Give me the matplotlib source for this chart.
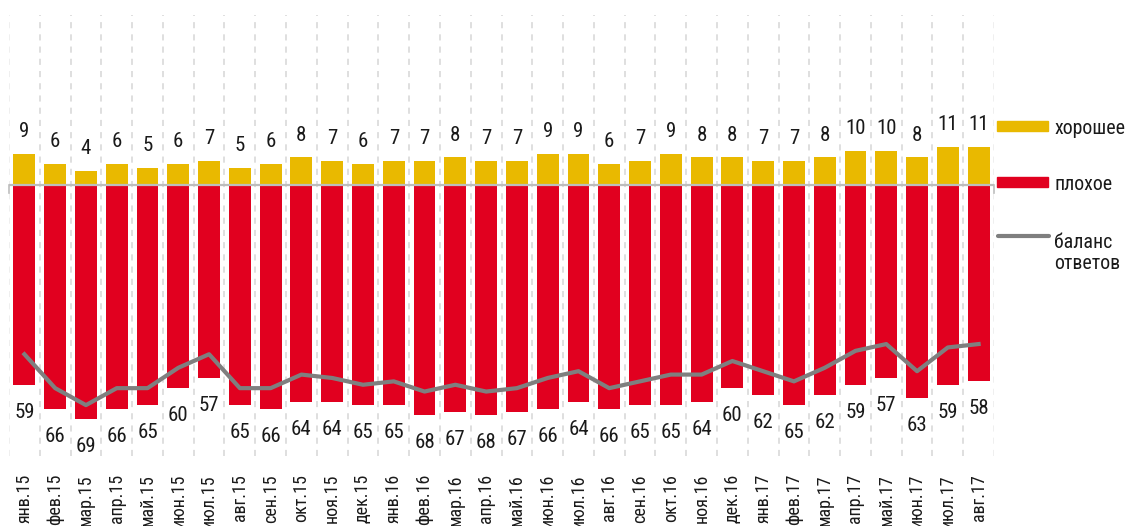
import matplotlib
matplotlib.use("Agg")
import matplotlib.pyplot as plt
from matplotlib.patches import Rectangle
from matplotlib.lines import Line2D
from matplotlib import font_manager

# Monthly survey: share of "good" and "bad" answers and their balance
months = ["янв.15", "фев.15", "мар.15", "апр.15", "май.15", "июн.15", "июл.15", "авг.15",
          "сен.15", "окт.15", "ноя.15", "дек.15", "янв.16", "фев.16", "мар.16", "апр.16",
          "май.16", "июн.16", "июл.16", "авг.16", "сен.16", "окт.16", "ноя.16", "дек.16",
          "янв.17", "фев.17", "мар.17", "апр.17", "май.17", "июн.17", "июл.17", "авг.17"]
good = [9, 6, 4, 6, 5, 6, 7, 5, 6, 8, 7, 6, 7, 7, 8, 7, 7, 9, 9, 6, 7, 9, 8, 8,
        7, 7, 8, 10, 10, 8, 11, 11]
bad = [59, 66, 69, 66, 65, 60, 57, 65, 66, 64, 64, 65, 65, 68, 67, 68, 67, 66, 64, 66,
       65, 65, 64, 60, 62, 65, 62, 59, 57, 63, 59, 58]
balance = [g - b for g, b in zip(good, bad)]

legend_labels = ["хорошее", "плохое", "баланс", "ответов"]

YELLOW = "#E9B900"
RED = "#E1001F"
GREY_LINE = "#7F7F7F"
TEXT = "#1A1A1A"

installed = {f.name for f in font_manager.fontManager.ttflist}
family = [f for f in ["Roboto Condensed", "PT Sans Narrow", "DejaVu Sans"] if f in installed]
plt.rcParams["font.family"] = family

W, H = 1130, 526
fig = plt.figure(figsize=(W / 100, H / 100), dpi=100)
ax_l, ax_r, ax_t, ax_b = 9, 994, 15, 456
ax = fig.add_axes([ax_l / W, 1 - ax_b / H, (ax_r - ax_l) / W, (ax_b - ax_t) / H])

x = list(range(len(months)))
neg_bad = [-b for b in bad]

ax.set_xlim(-0.5, len(months) - 0.5)
ax.set_ylim(-80, 50)

# dashed separators between months
for k in range(len(months) + 1):
    edge = k in (0, len(months))
    ax.axvline(k - 0.5, color="#EBEBEB" if edge else "#D6D6D6", lw=1.1,
               ls=(0, (4, 4)), zorder=0)

ax.bar(x, good, width=0.71, color=YELLOW, zorder=2)
ax.bar(x, neg_bad, width=0.71, color=RED, zorder=2)

ax.axhline(0, color="#BDBDBD", lw=1.6, zorder=3)
for xe in (-0.5, len(months) - 0.5):
    ax.plot([xe, xe], [0, -2.4], color="#BDBDBD", lw=1.2, clip_on=False, zorder=3)

ax.plot(x, balance, color=GREY_LINE, lw=3.0, solid_joinstyle="round", zorder=4)

for xi, g in zip(x, good):
    ax.annotate(str(g), (xi, g), xytext=(0, 12.2), textcoords="offset points",
                ha="center", va="baseline", fontsize=15, color=TEXT, zorder=5)
for xi, b in zip(x, bad):
    ax.annotate(str(b), (xi, -b), xytext=(0, -23.8), textcoords="offset points",
                ha="center", va="baseline", fontsize=15, color=TEXT, zorder=5)

ax.set_xticks(x)
ax.set_xticklabels(months, rotation=90, fontsize=13, color=TEXT, va="top")
ax.tick_params(axis="x", length=0, pad=13)
ax.set_yticks([])
for s in ax.spines.values():
    s.set_visible(False)

# legend
def fx(px):
    return px / W

def fy(py):
    return 1 - py / H

fig.add_artist(Rectangle((fx(997), fy(131)), fx(51), 10 / H, color=YELLOW,
                         transform=fig.transFigure))
fig.add_artist(Rectangle((fx(997), fy(187)), fx(51), 10 / H, color=RED,
                         transform=fig.transFigure))
fig.add_artist(Line2D([fx(998), fx(1049)], [fy(236), fy(236)], color=GREY_LINE,
                      lw=3.0, solid_capstyle="round", transform=fig.transFigure))
for label, base in zip(legend_labels, (134, 190, 248, 269)):
    fig.text(fx(1054), fy(base), label, fontsize=14.3, color=TEXT, va="baseline")

fig.savefig("out.png", dpi=100, facecolor="white")
